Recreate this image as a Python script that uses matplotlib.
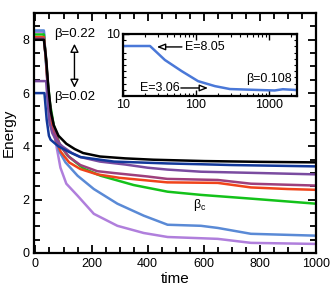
import matplotlib
matplotlib.use("Agg")
import matplotlib.pyplot as plt
from matplotlib.ticker import MultipleLocator, FixedLocator, LogLocator, NullFormatter

plt.rcParams['font.family'] = ['Liberation Sans', 'DejaVu Sans']

# ---- data ----
black_t = [0, 30, 38, 46, 55, 65, 82, 110, 140, 170, 230, 320, 420, 600, 800, 1000]
black_e = [8.0, 8.0, 7.3, 6.2, 5.3, 4.8, 4.4, 4.1, 3.9, 3.75, 3.62, 3.55, 3.5, 3.45, 3.42, 3.4]

navy_t = [0, 32, 40, 48, 54, 82, 118, 160, 280, 470, 590, 700, 1000]
navy_e = [6.0, 6.0, 5.0, 4.4, 4.25, 4.0, 3.8, 3.6, 3.43, 3.36, 3.33, 3.3, 3.25]

purple_t = [0, 38, 44, 50, 60, 75, 96, 130, 160, 230, 320, 400, 470, 590, 800, 1000]
purple_e = [6.45, 6.45, 5.6, 4.9, 4.5, 4.2, 4.0, 3.75, 3.6, 3.43, 3.32, 3.2, 3.13, 3.05, 3.0, 2.95]

maroon_t = [0, 30, 38, 46, 56, 70, 90, 120, 160, 220, 280, 400, 470, 650, 768, 1000]
maroon_e = [8.05, 8.05, 7.2, 6.1, 5.2, 4.5, 4.0, 3.6, 3.3, 3.07, 3.0, 2.87, 2.78, 2.74, 2.6, 2.53]

red_t = [0, 30, 38, 45, 55, 70, 90, 120, 160, 220, 300, 400, 470, 650, 768, 900, 1000]
red_e = [8.1, 8.1, 7.2, 6.0, 5.0, 4.3, 3.8, 3.4, 3.15, 2.95, 2.82, 2.72, 2.65, 2.63, 2.46, 2.4, 2.37]

green_t = [0, 30, 36, 44, 52, 65, 85, 114, 171, 232, 350, 471, 590, 768, 1000]
green_e = [8.2, 8.2, 7.4, 6.4, 5.6, 4.8, 4.1, 3.66, 3.17, 2.9, 2.55, 2.3, 2.18, 2.04, 1.85]

cblue_t = [0, 30, 35, 42, 50, 62, 83, 107, 150, 208, 292, 386, 471, 590, 650, 768, 1000]
cblue_e = [8.35, 8.35, 7.5, 6.5, 5.6, 4.7, 3.85, 3.4, 2.9, 2.4, 1.85, 1.4, 1.06, 1.02, 0.94, 0.72, 0.65]

lav_t = [0, 30, 35, 42, 50, 60, 75, 89, 110, 150, 208, 292, 386, 471, 650, 768, 1000]
lav_e = [8.3, 8.3, 7.5, 6.5, 5.6, 4.9, 4.0, 3.2, 2.6, 2.15, 1.47, 1.02, 0.75, 0.6, 0.53, 0.38, 0.34]

inset_t = [10, 23.5, 37.6, 64, 107, 182, 292, 756, 1200, 1550, 2420]
inset_e = [8.05, 8.05, 5.8, 4.0, 2.4, 1.6, 1.13, 0.97, 0.9, 1.1, 0.97]

series = [
    (lav_t, lav_e, '#b07fdc'),
    (cblue_t, cblue_e, '#5a8ad6'),
    (green_t, green_e, '#13c21a'),
    (red_t, red_e, '#f0441a'),
    (maroon_t, maroon_e, '#9e3f7c'),
    (purple_t, purple_e, '#7a4ba0'),
    (navy_t, navy_e, '#12389a'),
    (black_t, black_e, '#000000'),
]

fig = plt.figure(figsize=(3.34, 2.92), dpi=100)
ax = fig.add_axes([0.102, 0.1336, 0.844, 0.8214])

for t, e, c in series:
    ax.plot(t, e, color=c, lw=1.8, solid_joinstyle='round')

ax.set_xlim(-5, 1000)
ax.set_ylim(0, 9)
ax.xaxis.set_major_locator(MultipleLocator(200))
ax.xaxis.set_minor_locator(MultipleLocator(50))
ax.yaxis.set_major_locator(MultipleLocator(2))
ax.yaxis.set_minor_locator(MultipleLocator(0.5))
ax.tick_params(which='both', direction='in', top=True, right=True, width=1.3, labelsize=9)
ax.tick_params(which='major', length=6)
ax.tick_params(which='minor', length=4)
for s in ax.spines.values():
    s.set_linewidth(1.6)
ax.set_xlabel('time', fontsize=11)
ax.set_ylabel('Energy', fontsize=11)
ax.xaxis.set_label_coords(0.5, -0.078)
ax.yaxis.set_label_coords(-0.066, 0.5)

ax.text(139, 8.2, 'β=0.22', ha='center', va='center', fontsize=9.5)
ax.text(139, 5.86, 'β=0.02', ha='center', va='center', fontsize=9.5)
ax.annotate('', xy=(139, 7.85), xytext=(139, 6.2),
            arrowprops=dict(arrowstyle='<|-|>,head_length=0.5,head_width=0.25',
                            fc='white', ec='black', lw=1.0, shrinkA=0, shrinkB=0))
ax.text(586, 1.8, 'β$_\\mathregular{c}$', ha='center', va='center', fontsize=9)

# ---- inset ----
ins = fig.add_axes([0.368, 0.671, 0.521, 0.213])
ins.plot(inset_t, inset_e, color='#4a78d8', lw=1.8)
ins.set_xscale('log')
ins.set_xlim(10, 2420)
ins.set_ylim(0, 10)
ins.xaxis.set_major_locator(FixedLocator([10, 100, 1000]))
ins.set_xticklabels(['10', '100', '1000'])
ins.xaxis.set_minor_locator(LogLocator(base=10, subs=range(2, 10)))
ins.xaxis.set_minor_formatter(NullFormatter())
ins.yaxis.set_major_locator(FixedLocator([10]))
ins.set_yticklabels(['10'])
ins.yaxis.set_minor_locator(MultipleLocator(1))
ins.tick_params(which='both', direction='in', top=True, right=True, labelsize=9, pad=2)
ins.tick_params(which='major', length=4, width=1.0)
ins.tick_params(which='minor', length=2, width=0.8)
for s in ins.spines.values():
    s.set_linewidth(1.6)

ins.text(0.356, 0.79, 'E=8.05', transform=ins.transAxes, ha='left', va='center', fontsize=9)
ins.annotate('', xy=(0.195, 0.79), xytext=(0.339, 0.79), xycoords='axes fraction',
             textcoords='axes fraction',
             arrowprops=dict(arrowstyle='-|>,head_length=0.5,head_width=0.2',
                             fc='white', ec='black', lw=1.0, shrinkA=0, shrinkB=0))
ins.text(0.328, 0.13, 'E=3.06', transform=ins.transAxes, ha='right', va='center', fontsize=9)
ins.annotate('', xy=(0.489, 0.13), xytext=(0.333, 0.13), xycoords='axes fraction',
             textcoords='axes fraction',
             arrowprops=dict(arrowstyle='-|>,head_length=0.5,head_width=0.2',
                             fc='white', ec='black', lw=1.0, shrinkA=0, shrinkB=0))
ins.text(0.971, 0.274, 'β=0.108', transform=ins.transAxes, ha='right', va='center', fontsize=9)

fig.savefig('out.png', dpi=100)
